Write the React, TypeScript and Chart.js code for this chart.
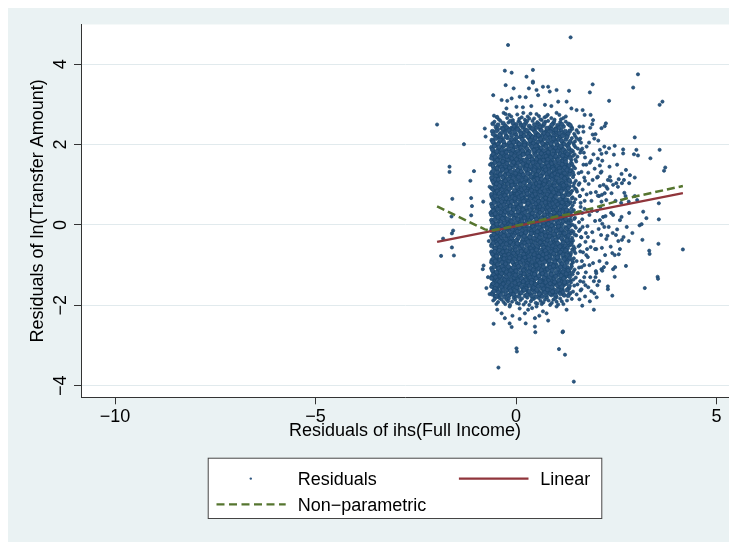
import React, { useEffect, useRef } from 'react';
import { Chart, registerables } from 'chart.js';
Chart.register(...registerables);

// ---- axes ----
const X_TICKS = [-10, -5, 0, 5];
const Y_TICKS = [-4, -2, 0, 2, 4];
const X_MIN = -10.85;
const X_MAX = 5.31;
const Y_MIN = -4.29;
const Y_MAX = 4.99;

const X_TITLE = 'Residuals of ihs(Full Income)';
const Y_TITLE = 'Residuals of ln(Transfer Amount)';
const LEGEND_LABELS = ['Residuals', 'Linear', 'Non\u2212parametric'];

// ---- fitted lines ----
const LINEAR_X = [-1.97, 4.16];
const LINEAR_Y = [-0.42, 0.79];
const LOWESS_X = [-1.97, -0.78, -0.61, 0.09, 0.92, 1.42, 1.92, 2.75, 4.16];
const LOWESS_Y = [0.46, -0.11, -0.14, 0.0, 0.19, 0.29, 0.42, 0.66, 0.97];

// ---- residual points, (x, y) pairs in hundredths ----
const RESID_CORE = [
  -55,272, -43,263, -31,279, -22,266, -8,261, 3,275, 14,268, 22,262, 36,277, 45,265, 57,271, 64,261, 79,274, 88,266, 101,279, 112,263, -17,274, 29,270, 71,268, 124,270,
  -58,252, -50,244, -39,259, -27,247, -19,255, -11,241, 0,250, 6,258, 17,243, 24,254, 33,246, 41,259, 50,242, 56,251, 67,247, 73,257, 85,243, 93,253, 99,240, 110,256, 118,245, 131,251, -35,241, 12,249, 46,250, 80,259, 104,248, 139,243,
  -59,233, -52,222, -46,238, -38,228, -30,235, -24,221, -15,231, -7,239, -1,226, 9,234, 15,222, 23,237, 31,229, 38,221, 44,236, 53,227, 60,239, 66,224, 74,232, 83,221, 89,238, 95,229, 104,223, 112,236, 119,228, 127,221, 134,234, 145,227, -20,239, 19,230, 49,222, 78,238, 100,233, 151,236,
  -60,211, -55,203, -47,218, -42,206, -34,213, -29,201, -21,217, -13,208, -9,200, -2,214, 5,205, 11,219, 19,209, 26,202, 32,216, 37,206, 45,212, 51,201, 58,219, 63,208, 70,214, 77,203, 84,217, 90,207, 97,212, 103,200, 110,218, 116,205, 124,213, 131,202, 139,216, 147,208, -38,219, 1,207, 41,219, 68,201, 94,219, 157,212,
  -61,193, -57,184, -51,198, -44,189, -40,181, -33,195, -25,186, -22,199, -14,183, -6,192, -3,181, 6,197, 10,188, 18,181, 23,194, 30,185, 36,199, 42,190, 47,182, 55,195, 59,187, 66,181, 72,198, 79,189, 82,183, 91,194, 96,186, 102,199, 109,181, 115,191, 121,185, 128,197, 133,188, 142,183, 148,194, -30,182, 14,200, 51,190, 87,199, 106,189, 137,181, 162,186,
  -60,172, -54,163, -49,178, -43,167, -37,174, -34,160, -26,176, -18,165, -15,171, -7,161, -1,179, 4,168, 12,174, 16,162, 25,177, 28,166, 35,172, 43,160, 46,178, 53,169, 61,175, 65,163, 73,179, 76,167, 84,173, 89,161, 97,177, 101,166, 108,171, 114,160, 121,178, 125,168, 132,174, 138,162, 146,176, -29,168, 8,160, 39,168, 57,163, 81,178, 94,169, 118,166, 153,170, -46,163, 69,170,
  -61,152, -56,143, -50,158, -45,146, -39,154, -31,141, -28,157, -20,148, -12,159, -8,144, -1,151, 7,140, 13,156, 20,147, 24,153, 33,142, 38,158, 44,149, 52,141, 56,155, 63,146, 70,159, 75,150, 83,142, 86,156, 94,147, 99,140, 106,153, 113,145, 117,159, 126,149, 130,141, 137,155, 143,146, -24,141, -4,158, 29,150, 48,157, 66,141, 79,156, 90,150, 110,142, 122,152, 150,158, -35,149,
  -60,131, -53,124, -48,138, -41,127, -36,135, -30,120, -22,132, -17,139, -10,125, -3,134, 2,121, 10,137, 15,128, 21,120, 27,133, 34,126, 40,139, 47,122, 54,131, 58,137, 64,124, 71,133, 78,121, 81,138, 88,127, 95,134, 100,122, 107,139, 111,128, 119,135, 124,121, 131,130, 139,137, 144,125, -44,121, -26,128, 6,129, 31,138, 50,126, 68,139, 85,120, 102,131, 115,123, 135,134, 156,129,
  -59,112, -55,103, -47,117, -42,108, -35,101, -28,115, -23,106, -16,119, -9,109, -5,102, 3,114, 9,105, 17,118, 22,107, 29,113, 36,101, 42,116, 48,106, 55,119, 61,110, 67,103, 74,115, 80,107, 87,118, 92,101, 98,112, 105,105, 112,117, 118,109, 123,102, 129,114, 136,106, 142,119, 149,110, -51,109, -31,108, -12,101, 13,110, 39,119, 60,100, 77,111, 95,119, 109,101, 126,118, 158,104,
  -61,92, -54,85, -50,98, -43,88, -38,94, -33,81, -25,97, -20,86, -13,93, -6,80, -2,99, 5,89, 12,95, 18,82, 23,97, 31,87, 37,93, 41,80, 49,98, 54,88, 62,94, 68,83, 73,99, 79,90, 86,84, 91,96, 98,88, 103,81, 110,97, 116,89, 121,93, 127,80, 133,96, 140,85, 147,91, -46,80, -29,90, 0,84, 27,90, 45,84, 65,96, 83,95, 107,86, 124,99, 152,83,
  -60,71, -56,63, -49,77, -44,66, -37,74, -31,60, -26,78, -19,69, -11,75, -7,61, 0,73, 6,64, 11,79, 19,68, 25,74, 30,62, 38,77, 43,67, 50,72, 57,61, 63,79, 69,66, 72,74, 80,63, 85,78, 93,68, 97,73, 104,60, 111,77, 115,67, 122,74, 128,62, 135,79, 141,69, 148,64, -52,79, -22,62, 15,60, 34,70, 53,80, 76,70, 89,61, 100,79, 119,62, 159,72,
  -61,52, -57,43, -51,58, -45,47, -40,55, -34,41, -27,57, -21,46, -16,53, -8,40, -3,59, 4,49, 10,55, 16,42, 22,58, 28,48, 35,53, 40,41, 47,57, 51,46, 58,52, 66,40, 70,59, 77,48, 82,55, 89,43, 94,57, 101,47, 108,53, 112,40, 120,58, 125,49, 132,54, 138,42, 145,56, -47,40, -13,48, 1,42, 31,59, 55,44, 74,51, 97,41, 117,51, 141,49, 161,45,
  -60,33, -54,24, -48,38, -42,27, -36,35, -32,21, -24,37, -18,28, -10,34, -4,20, 2,39, 8,29, 14,35, 20,22, 27,38, 33,27, 39,33, 44,20, 52,37, 57,28, 64,34, 68,21, 75,39, 81,30, 88,23, 92,36, 99,28, 106,33, 113,21, 118,38, 124,29, 131,35, 137,22, 144,37, -51,30, -29,30, -7,27, 17,29, 36,21, 61,39, 78,27, 96,21, 110,35, 128,24, 155,31,
  -61,12, -56,4, -50,17, -43,8, -39,15, -31,1, -27,18, -20,7, -15,13, -7,0, -1,19, 7,9, 12,16, 18,3, 24,18, 31,8, 36,14, 42,1, 49,19, 55,10, 60,15, 67,2, 73,18, 78,7, 84,14, 90,0, 97,19, 103,9, 109,15, 115,3, 121,17, 126,8, 134,13, 140,1, 147,18, -47,1, -24,10, 3,4, 28,12, 46,6, 70,11, 87,19, 100,2, 119,11, 157,7,
  -60,-8, -55,-16, -49,-3, -44,-12, -38,-5, -33,-19, -25,-2, -19,-13, -12,-6, -6,-20, 1,-1, 5,-11, 13,-4, 17,-18, 26,-3, 30,-14, 37,-7, 44,-19, 48,-2, 56,-12, 62,-5, 66,-17, 74,-1, 79,-10, 87,-15, 91,-4, 98,-19, 104,-8, 111,-3, 117,-16, 123,-6, 129,-12, 136,-1, 143,-17, 149,-7, -52,-19, -28,-10, -2,-14, 21,-9, 40,-1, 59,-20, 83,-6, 108,-13, 132,-19, 160,-11,
  -61,-28, -57,-37, -51,-23, -45,-33, -41,-26, -34,-39, -28,-22, -22,-31, -14,-24, -9,-38, -2,-21, 4,-35, 10,-27, 16,-40, 23,-22, 29,-32, 36,-25, 41,-37, 49,-21, 53,-30, 61,-23, 67,-38, 72,-27, 80,-34, 85,-21, 93,-39, 97,-25, 104,-31, 110,-22, 116,-37, 124,-28, 129,-34, 137,-21, 142,-39, 150,-26, -48,-39, -17,-34, 7,-23, 33,-39, 57,-36, 76,-21, 89,-30, 119,-24, 134,-38, 163,-31,
  -60,-48, -54,-57, -49,-43, -43,-53, -37,-46, -31,-59, -26,-42, -18,-51, -12,-45, -5,-58, 0,-41, 8,-52, 12,-47, 20,-60, 25,-44, 32,-55, 39,-48, 45,-57, 50,-41, 58,-50, 64,-46, 70,-58, 77,-42, 83,-53, 90,-47, 94,-59, 101,-43, 107,-52, 114,-49, 120,-56, 126,-41, 133,-50, 139,-45, 146,-58, -46,-59, -21,-41, -3,-50, 17,-43, 36,-41, 55,-59, 73,-51, 97,-50, 111,-59, 130,-44, 156,-53,
  -61,-67, -56,-76, -50,-62, -46,-73, -39,-66, -35,-79, -27,-63, -21,-71, -15,-61, -8,-77, -3,-65, 3,-74, 11,-62, 15,-78, 22,-68, 28,-72, 35,-61, 42,-79, 47,-64, 54,-70, 60,-75, 65,-62, 71,-78, 78,-67, 86,-73, 89,-61, 96,-76, 103,-66, 108,-71, 115,-63, 121,-79, 127,-68, 135,-74, 140,-61, 148,-70, -52,-70, -31,-74, -11,-69, 7,-80, 31,-67, 50,-77, 68,-68, 92,-65, 118,-72, 160,-66,
  -60,-88, -55,-97, -48,-83, -44,-92, -37,-85, -32,-99, -24,-82, -20,-94, -13,-87, -6,-96, 1,-81, 6,-90, 14,-84, 19,-98, 24,-89, 31,-93, 38,-81, 43,-97, 51,-86, 56,-91, 63,-83, 67,-99, 74,-87, 81,-94, 85,-82, 92,-97, 99,-88, 105,-84, 112,-95, 118,-81, 125,-92, 131,-86, 138,-98, 144,-83, 151,-90, -51,-81, -28,-91, -1,-99, 26,-80, 47,-95, 61,-88, 78,-85, 100,-99, 122,-87, 142,-93,
  -61,-108, -57,-117, -51,-103, -45,-112, -40,-105, -33,-119, -29,-102, -22,-114, -16,-107, -9,-118, -4,-101, 4,-110, 9,-104, 17,-116, 21,-109, 29,-113, 34,-101, 41,-119, 46,-106, 53,-111, 59,-103, 66,-117, 70,-108, 77,-113, 83,-101, 88,-119, 95,-107, 102,-104, 109,-115, 114,-102, 120,-110, 128,-106, 133,-118, 139,-103, 146,-111, -47,-120, -25,-110, -2,-113, 13,-120, 38,-110, 62,-120, 80,-106, 106,-120, 124,-117, 157,-106,
  -60,-128, -54,-137, -49,-123, -42,-132, -38,-125, -31,-139, -26,-122, -19,-134, -11,-127, -7,-138, 0,-121, 7,-130, 12,-124, 18,-136, 26,-129, 30,-133, 37,-121, 44,-139, 48,-126, 55,-131, 62,-123, 68,-137, 73,-128, 79,-134, 86,-121, 90,-139, 97,-127, 104,-124, 110,-135, 117,-122, 122,-130, 127,-126, 136,-138, 141,-123, 149,-131, -52,-140, -35,-131, -15,-121, 3,-135, 22,-122, 41,-130, 64,-140, 93,-131, 113,-140, 132,-121,
  -59,-148, -55,-157, -50,-143, -44,-152, -38,-145, -34,-159, -27,-142, -21,-154, -14,-147, -8,-158, -1,-141, 5,-150, 11,-144, 16,-156, 23,-149, 27,-153, 35,-141, 40,-159, 46,-146, 52,-151, 58,-143, 63,-157, 71,-148, 76,-154, 82,-141, 87,-159, 94,-147, 100,-144, 107,-155, 112,-142, 118,-150, 124,-146, 131,-158, 137,-143, 145,-151, -47,-160, -30,-150, -4,-153, 20,-142, 43,-152, 67,-145, 91,-150, 115,-160, 128,-141, 153,-148,
  -58,-168, -53,-177, -47,-163, -41,-172, -35,-165, -29,-179, -22,-162, -16,-174, -9,-167, -3,-178, 4,-161, 10,-170, 17,-164, 23,-176, 30,-169, 36,-173, 43,-161, 49,-179, 56,-166, 62,-171, 69,-163, 75,-177, 81,-168, 88,-174, 94,-161, 100,-179, 107,-167, 113,-164, 120,-175, 127,-162, 134,-170, 142,-166, -44,-180, -12,-171, 26,-161, 59,-175, 97,-170, 151,-173,
  -57,-188, -49,-197, -40,-183, -31,-192, -24,-185, -15,-199, -6,-182, 2,-194, 11,-187, 19,-198, 28,-181, 37,-190, 44,-184, 53,-196, 61,-189, 68,-193, 77,-181, 85,-199, 93,-186, 101,-191, 110,-183, 118,-197, 127,-188, 139,-184, -20,-190, 33,-199, 72,-186, 105,-198,
];

const RESID_CORE_B = [
  -48,268, -26,276, -12,270, 8,264, 18,279, 33,265, 51,276, 61,263, 75,270, 96,262, 108,274, 118,266,
  -54,257, -45,249, -32,253, -23,242, -15,259, -5,246, 3,241, 10,255, 20,248, 28,259, 37,241, 53,256, 60,244, 70,252, 77,241, 89,249, 95,258, 107,242, 114,251, 124,257, 135,248, -8,254,
  -57,226, -49,234, -41,224, -33,239, -27,229, -18,236, -11,223, -4,232, 4,238, 12,227, 20,222, 27,235, 34,225, 41,240, 48,231, 56,223, 63,235, 70,228, 79,226, 86,232, 93,222, 99,237, 108,228, 116,222, 123,233, 130,227, 140,239, 147,222,
  -58,207, -51,215, -45,201, -39,211, -31,207, -25,219, -17,204, -11,213, -6,206, 2,218, 8,202, 15,213, 22,205, 29,220, 35,210, 43,203, 48,216, 55,207, 61,214, 66,203, 73,219, 80,210, 87,202, 93,215, 100,206, 106,213, 113,210, 120,201, 127,219, 135,208, 143,203, 151,216,
  -59,188, -54,196, -48,183, -42,194, -36,186, -30,198, -24,181, -18,190, -12,197, -8,186, 0,194, 4,183, 12,192, 16,185, 21,199, 27,190, 33,182, 39,195, 45,186, 50,197, 57,183, 63,192, 69,185, 75,195, 80,181, 85,190, 93,183, 99,192, 104,184, 112,196, 118,187, 124,181, 131,192, 139,186, 145,198, 154,190,
  -61,166, -57,176, -52,169, -47,161, -40,170, -35,179, -31,164, -23,171, -20,161, -12,177, -10,166, -4,172, 1,163, 7,177, 10,170, 18,175, 21,161, 29,178, 32,170, 40,163, 49,174, 51,164, 58,170, 63,178, 68,161, 75,171, 79,163, 87,169, 92,176, 99,171, 104,162, 111,177, 116,173, 123,163, 128,177, 135,167, 142,172, 148,163,
  -58,148, -53,155, -47,141, -42,152, -37,144, -33,158, -26,146, -23,153, -16,142, -10,150, -6,156, 2,146, 5,154, 10,143, 17,152, 22,141, 27,147, 31,157, 36,146, 42,155, 47,143, 54,149, 60,157, 65,148, 72,143, 77,154, 81,147, 89,153, 91,143, 97,156, 103,146, 108,141, 115,151, 121,143, 124,157, 133,148, 140,152, 147,141,
  -61,128, -57,134, -50,121, -46,131, -39,126, -34,138, -28,123, -24,135, -19,127, -13,133, -7,121, -1,129, 4,136, 8,124, 13,133, 18,125, 24,139, 29,128, 37,121, 42,132, 45,137, 52,125, 56,134, 61,121, 67,130, 74,137, 76,126, 83,132, 90,124, 93,139, 97,128, 104,124, 109,134, 113,121, 121,129, 127,137, 134,126, 142,131,
  -61,117, -57,108, -52,114, -49,102, -44,113, -38,106, -33,118, -26,110, -21,102, -18,114, -12,108, -7,117, 0,107, 6,119, 11,101, 15,112, 20,105, 25,117, 33,108, 38,102, 45,111, 51,103, 53,115, 58,106, 64,114, 70,101, 72,110, 78,119, 83,105, 90,113, 96,104, 101,117, 107,109, 115,103, 121,116, 126,105, 133,111, 145,104,
  -58,89, -52,93, -47,84, -41,97, -35,88, -30,95, -23,82, -17,90, -10,99, -4,86, 2,94, 8,81, 14,88, 21,92, 26,84, 33,98, 39,86, 43,95, 47,82, 52,91, 57,97, 60,83, 66,90, 71,85, 76,95, 81,82, 88,91, 94,81, 96,97, 101,89, 106,93, 113,84, 118,99, 125,87, 130,91, 137,83, 143,97, 150,88,
  -61,76, -58,68, -53,72, -47,63, -42,78, -39,70, -33,65, -28,73, -24,66, -16,62, -13,78, -9,70, -3,66, 3,77, 8,70, 14,73, 17,65, 22,62, 28,78, 36,66, 41,73, 46,62, 48,77, 55,68, 61,73, 66,62, 74,67, 78,76, 83,64, 87,73, 95,64, 99,70, 106,77, 109,64, 117,71, 124,63, 131,75, 139,66,
  -59,46, -55,55, -49,43, -43,52, -38,47, -36,58, -30,50, -24,43, -19,56, -14,47, -11,58, -6,45, 0,53, 7,44, 12,50, 19,59, 25,43, 30,54, 37,47, 42,57, 45,45, 49,53, 56,59, 60,46, 64,54, 68,44, 73,56, 79,44, 85,50, 92,53, 96,45, 99,58, 104,51, 111,46, 115,56, 123,44, 129,51, 136,57,
  -61,25, -57,34, -52,28, -46,39, -40,22, -38,31, -30,26, -27,33, -21,38, -15,24, -12,31, -6,38, 0,25, 5,33, 11,22, 17,38, 22,31, 30,24, 35,37, 41,29, 47,22, 50,34, 55,25, 60,31, 66,38, 71,26, 77,33, 84,37, 86,24, 95,31, 101,38, 103,23, 109,29, 116,33, 121,22, 126,37, 134,27, 140,33,
  -59,6, -53,13, -48,2, -45,19, -37,9, -34,16, -29,5, -22,15, -18,2, -11,9, -5,16, 0,6, 4,14, 10,1, 15,10, 21,17, 26,5, 34,11, 39,18, 44,4, 51,14, 53,2, 58,8, 63,17, 69,6, 75,12, 81,3, 82,16, 89,9, 94,16, 100,12, 106,5, 112,18, 117,9, 124,14, 131,4, 137,10, 145,15,
  -61,-14, -57,-4, -51,-10, -46,-18, -40,-9, -35,-2, -30,-16, -23,-7, -16,-17, -14,-1, -9,-11, -3,-4, 3,-16, 9,-8, 15,-14, 20,-2, 24,-19, 33,-10, 39,-15, 42,-4, 46,-11, 53,-17, 58,-7, 64,-13, 69,-3, 72,-18, 77,-8, 85,-12, 89,-2, 94,-9, 100,-15, 106,-3, 113,-11, 119,-20, 126,-9, 132,-4, 139,-14, 146,-2,
  -59,-33, -55,-24, -49,-30, -43,-37, -38,-22, -36,-31, -31,-27, -25,-36, -19,-25, -11,-32, -6,-27, 0,-39, 6,-31, 13,-22, 18,-35, 20,-28, 27,-37, 34,-30, 38,-21, 44,-33, 51,-26, 55,-38, 59,-31, 64,-24, 70,-34, 74,-27, 78,-39, 83,-28, 91,-34, 95,-23, 100,-37, 107,-28, 113,-33, 121,-21, 127,-38, 131,-26, 140,-32, 146,-24,
  -61,-52, -57,-45, -52,-59, -47,-48, -41,-57, -39,-42, -33,-50, -28,-56, -24,-47, -16,-58, -14,-43, -8,-49, -1,-55, 3,-46, 10,-57, 15,-52, 22,-45, 27,-51, 30,-42, 37,-58, 42,-51, 48,-46, 53,-55, 60,-43, 67,-51, 69,-56, 75,-47, 80,-59, 86,-44, 92,-52, 99,-57, 104,-46, 109,-54, 117,-44, 123,-52, 128,-58, 136,-48, 143,-53,
  -59,-72, -53,-66, -49,-78, -42,-63, -37,-71, -33,-67, -29,-76, -23,-65, -18,-73, -12,-79, -6,-70, -1,-62, 5,-69, 9,-77, 13,-66, 19,-73, 25,-63, 31,-79, 38,-70, 40,-65, 45,-74, 51,-62, 57,-78, 62,-69, 67,-74, 73,-64, 76,-72, 82,-78, 88,-67, 94,-71, 99,-63, 105,-78, 111,-68, 117,-74, 124,-63, 130,-77, 137,-69, 145,-65,
  -61,-93, -57,-85, -52,-90, -46,-99, -40,-87, -35,-93, -30,-84, -26,-97, -18,-89, -16,-82, -9,-92, -3,-86, 3,-97, 8,-84, 11,-93, 17,-88, 22,-81, 28,-96, 33,-87, 40,-92, 45,-83, 49,-99, 54,-88, 59,-94, 65,-85, 71,-92, 76,-81, 83,-89, 87,-98, 94,-86, 97,-92, 103,-81, 109,-89, 115,-97, 120,-85, 127,-94, 134,-82, 140,-89,
  -59,-113, -55,-104, -49,-118, -43,-108, -38,-114, -35,-103, -31,-111, -24,-117, -19,-104, -12,-112, -7,-106, 0,-115, 6,-103, 11,-119, 15,-108, 19,-113, 26,-102, 32,-117, 36,-107, 43,-112, 48,-119, 51,-101, 57,-109, 63,-113, 68,-104, 72,-119, 79,-110, 85,-106, 90,-113, 93,-102, 100,-118, 105,-109, 111,-105, 117,-117, 122,-103, 130,-113, 136,-108, 143,-116,
  -61,-133, -56,-124, -51,-130, -46,-138, -40,-127, -36,-121, -28,-135, -24,-129, -17,-123, -13,-137, -5,-131, -2,-125, 5,-139, 10,-128, 14,-133, 20,-122, 24,-137, 32,-126, 35,-131, 39,-138, 46,-123, 50,-133, 57,-127, 60,-136, 66,-121, 70,-131, 75,-124, 81,-138, 84,-129, 88,-123, 95,-134, 99,-128, 106,-138, 112,-126, 119,-133, 125,-122, 134,-129, 143,-136,
  -61,-153, -57,-146, -52,-158, -48,-149, -41,-141, -36,-155, -32,-147, -25,-153, -19,-143, -16,-158, -10,-149, -3,-144, 2,-156, 8,-147, 13,-152, 18,-141, 25,-158, 29,-145, 33,-151, 38,-144, 44,-156, 49,-148, 55,-153, 60,-141, 65,-150, 69,-159, 74,-143, 79,-151, 85,-146, 89,-155, 96,-142, 103,-151, 109,-147, 114,-154, 121,-143, 133,-152,
  -60,-172, -55,-165, -50,-178, -44,-168, -38,-174, -32,-162, -26,-171, -19,-177, -14,-164, -6,-173, 0,-166, 7,-178, 13,-169, 20,-162, 27,-174, 33,-165, 39,-177, 46,-168, 52,-162, 58,-172, 65,-178, 72,-168, 78,-161, 85,-171, 91,-166, 98,-175, 104,-162, 111,-171, 117,-167, 130,-176,
  -53,-184, -45,-192, -36,-186, -27,-197, -18,-183, -10,-191, -2,-186, 7,-196, 15,-183, 24,-192, 40,-185, 49,-194, 57,-182, 64,-197, 81,-188, 89,-194, 97,-183, 114,-190,
];

const RESID_TAILS = [
  -47,-211, -36,-220, -28,-232, -16,-203, -16,-245, 9,-208, 9,-234, 22,-220, 24,-245, 30,-211, 47,-232, 51,-203, 67,-215, 76,-220, 80,-238, 101,-203, 126,-211, -9,-226, 40,-207, 58,-226,
  -36,311, -22,309, -11,315, 9,319, 24,318, 32,340, 51,336, 55,323, 67,344, 80,344, 84,332, 101,336, 132,334, 105,307, 126,307, 138,290, 151,286, 166,286, 171,274, 186,274, -24,290, 1,294, 17,293, 38,296, 72,299, 88,296, -26,348, -6,340, 42,357, -47,269, 192,261, 198,226, 195,215, 190,251,
  -65,150, -68,-40, -66,95, -70,-130, -64,30,
];

const RESID_FRINGE = [
  160,215, 165,190, 172,168, 158,245, 168,232, 182,205, 175,150, 163,132, 170,118, 181,102, 166,88, 176,76, 188,60, 161,55, 171,40, 183,25, 165,14, 178,-3, 190,-18, 162,-30, 173,-42, 186,-55, 167,-68, 179,-80, 192,-95, 163,-105, 174,-118, 185,-130, 168,-142, 180,-155, 161,-163, 172,-178, 184,-190, 195,-170, 198,-130, 200,-60, 197,10, 199,82, 196,140, 193,176, 205,210, 185,242, 210,45, 212,-25, 208,-90, 215,160, 218,100, 220,-5, 225,-35, 203,-150, 158,-185, 166,-5, 159,-50, 164,-90, 170,-130, 176,195, 191,225, 187,160, 202,118, 207,72, 213,-110, 154,-120, 156,100, 160,-140, 171,60, 177,-60, 183,-100, 189,35, 194,-140, 201,-180, 206,-10, 169,180, 174,-20,
  155,230, 162,205, 168,150, 172,110, 159,72, 165,30, 157,-15, 170,-100, 163,-160, 175,-75, 180,130, 186,80, 193,-40, 199,-115, 204,165, 211,130, 217,20, 222,-75, 228,90, 233,145, 237,30, 241,-20, 248,60, 252,150, 259,-60, 263,20, 270,80, 276,-5, 160,180, 167,245, 173,-150, 179,-30, 184,155, 188,-165, 191,112, 197,-60, 202,35, 207,-140, 214,75, 220,195, 226,-95, 231,-5, 236,110, 242,-110, 249,-25, 254,95, 262,55, 268,-30, 282,30, 290,-20,
];

const RESID_OUTLIERS = [
  136,467, -20,448, -28,384, -11,379, 42,386, 26,369, 42,354, 304,375, 292,342, 191,350, 184,330, 232,309, 358,299, 365,307, -57,323, -197,250, -78,240, -76,220, -130,201, -166,145, -166,132, -105,134, -114,110, -159,65, -112,67, -110,47, -82,58, -112,24, -161,21, -157,-14, -160,-21, -182,-34, -160,-56, -187,-77, -155,-76, -83,-110, -81,-101, -74,-157, -66,-172, -56,-246, -11,-254, 1,-307, 2,-315, -44,-355, 47,-253, 48,-267, 116,-267, 117,-265, 107,-309, 122,-323, 144,-390, 194,-211, 165,-201, 321,-157, 353,-129, 354,-134, 274,-102, 246,-129, 240,-176, 229,-153, 229,-160, 247,-105, 416,-61, 332,-64, 333,-72, 315,-37, 355,-47, 281,-40, 255,-40, 264,-37, 240,-70, 246,-75, 256,-73, 236,-54, 228,-27, 214,-57, 215,-114, 219,-105, 200,-120, 308,-1, 313,2, 325,17, 356,14, 317,33, 356,54, 302,62, 296,72, 259,12, 252,-11, 223,22, 242,25, 209,12, 215,3, 369,135, 372,143, 358,187, 335,166, 296,218, 300,187, 304,173, 294,176, 267,188, 267,178, 246,197, 244,175, 232,191, 225,180, 213,177, 209,187, 224,253, 221,246, 213,241, 284,124, 274,137, 263,127, 296,118, 282,104, 256,114, 250,104, 264,104, 269,112, 234,120, 229,112, 242,100, 238,79, 273,72, 281,58, 209,148, 213,133, 204,120, 221,79, 225,62, 213,58, 204,73, 225,95, 209,97,
];

// ---- styles ----
const BG = '#EAF2F3';
const NAVY = '#1A476F';
const NAVY_FILL = '#2D5680';
const MAROON = '#90353B';
const GREEN = '#55752F';
const GRID = '#E1EAED';
const AXIS = '#333333';
const FONT = "'Liberation Sans', Arial, Helvetica, sans-serif";

const fmt = (v: number) => (v < 0 ? '\u2212' + Math.abs(v) : String(v));

function pairsToPoints(arr: number[], dense = false) {
  const out: { x: number; y: number; dense: boolean }[] = [];
  for (let i = 0; i + 1 < arr.length; i += 2) out.push({ x: arr[i] / 100, y: arr[i + 1] / 100, dense });
  return out;
}

const decorPlugin = {
  id: 'decor',
  beforeDraw(chart: any) {
    const { ctx, chartArea: a, width, height } = chart;
    ctx.save();
    ctx.fillStyle = BG;
    ctx.fillRect(0, 0, width, height);
    ctx.fillStyle = '#ffffff';
    ctx.fillRect(a.left, a.top, a.right - a.left, a.bottom - a.top);
    ctx.restore();
  },
  afterDraw(chart: any) {
    const { ctx, chartArea: a, scales } = chart;
    ctx.save();
    ctx.fillStyle = '#000';
    ctx.font = `18px ${FONT}`;
    for (const v of Y_TICKS) {
      const y = scales.y.getPixelForValue(v);
      ctx.save();
      ctx.translate(53, y);
      ctx.rotate(-Math.PI / 2);
      ctx.textAlign = 'center';
      ctx.textBaseline = 'middle';
      ctx.fillText(fmt(v), 0, 0);
      ctx.restore();
    }
    ctx.save();
    ctx.translate(30.5, (a.top + a.bottom) / 2);
    ctx.rotate(-Math.PI / 2);
    ctx.textAlign = 'center';
    ctx.textBaseline = 'middle';
    ctx.fillText(Y_TITLE, 0, 0);
    ctx.restore();
    ctx.textAlign = 'center';
    ctx.textBaseline = 'alphabetic';
    ctx.fillText(X_TITLE, (a.left + a.right) / 2, 429.5);

    // legend
    const bx = 199.7, by = 451.7, bw = 394.6, bh = 61.3;
    ctx.fillStyle = '#ffffff';
    ctx.fillRect(bx, by, bw, bh);
    ctx.strokeStyle = '#444';
    ctx.lineWidth = 1;
    ctx.strokeRect(bx + 0.5, by + 0.5, bw - 1, bh - 1);

    const r1 = 472.6, r2 = 498.4;
    ctx.beginPath();
    ctx.arc(242.8, r1, 1.2, 0, Math.PI * 2);
    ctx.fillStyle = NAVY_FILL;
    ctx.fill();
    ctx.beginPath();
    ctx.moveTo(450.9, r1);
    ctx.lineTo(520.5, r1);
    ctx.strokeStyle = MAROON;
    ctx.lineWidth = 2.2;
    ctx.stroke();
    ctx.beginPath();
    ctx.setLineDash([8, 4.5]);
    ctx.moveTo(208.5, r2);
    ctx.lineTo(277.7, r2);
    ctx.strokeStyle = GREEN;
    ctx.lineWidth = 2.4;
    ctx.stroke();
    ctx.setLineDash([]);

    ctx.fillStyle = '#000';
    ctx.textAlign = 'left';
    ctx.textBaseline = 'alphabetic';
    ctx.fillText(LEGEND_LABELS[0], 289.7, 479.2);
    ctx.fillText(LEGEND_LABELS[1], 532.2, 479.2);
    ctx.fillText(LEGEND_LABELS[2], 289.7, 504.8);
    ctx.restore();
  },
};

export default function App() {
  const ref = useRef<HTMLCanvasElement | null>(null);
  useEffect(() => {
    if (!ref.current) return;
    const resid = [
      ...pairsToPoints(RESID_CORE, true),
      ...pairsToPoints(RESID_CORE_B, true),
      ...pairsToPoints(RESID_FRINGE),
      ...pairsToPoints(RESID_TAILS),
      ...pairsToPoints(RESID_OUTLIERS),
    ];
    const linear = LINEAR_X.map((x, i) => ({ x, y: LINEAR_Y[i] }));
    const lowess = LOWESS_X.map((x, i) => ({ x, y: LOWESS_Y[i] }));
    const chart = new Chart(ref.current, {
      type: 'scatter',
      data: {
        datasets: [
          {
            label: LEGEND_LABELS[0],
            data: resid,
            backgroundColor: NAVY_FILL,
            borderColor: NAVY,
            // interior of the dense cloud stands for many overlapping markers: drawn a bit larger
            pointRadius: (c: any) => {
              const p = c.raw;
              return p && p.dense && p.y > -1.8 && p.y < 2.55 && p.x < 1.36 ? 2.1 : 1.6;
            },
            borderWidth: 0.7,
            order: 3,
          },
          {
            label: LEGEND_LABELS[1],
            data: linear,
            showLine: true,
            borderColor: MAROON,
            borderWidth: 2.3,
            pointRadius: 0,
            fill: false,
            order: 2,
          },
          {
            label: LEGEND_LABELS[2],
            data: lowess,
            showLine: true,
            borderColor: GREEN,
            borderWidth: 2.5,
            borderDash: [8, 4],
            pointRadius: 0,
            fill: false,
            order: 1,
          } as any,
        ],
      },
      options: {
        responsive: false,
        animation: false,
        devicePixelRatio: 1,
        events: [],
        layout: { padding: { top: 18.5, right: 8, bottom: 0, left: 0 } },
        plugins: { legend: { display: false }, tooltip: { enabled: false } },
        scales: {
          x: {
            type: 'linear',
            min: X_MIN,
            max: X_MAX,
            afterBuildTicks: (s: any) => {
              s.ticks = X_TICKS.map((value) => ({ value }));
            },
            afterFit: (s: any) => {
              s.height = 144.7;
            },
            ticks: {
              callback: (v: any) => fmt(Number(v)),
              font: { size: 18, family: FONT },
              color: '#000',
              padding: 2,
              maxRotation: 0,
              minRotation: 0,
              autoSkip: false,
            },
            grid: {
              drawOnChartArea: false,
              drawTicks: true,
              tickLength: 7,
              tickColor: AXIS,
              tickWidth: 1,
            },
            border: { display: true, color: AXIS, width: 1 },
          },
          y: {
            type: 'linear',
            min: Y_MIN,
            max: Y_MAX,
            afterBuildTicks: (s: any) => {
              s.ticks = Y_TICKS.map((value) => ({ value }));
            },
            afterFit: (s: any) => {
              s.width = 73;
            },
            ticks: { display: false },
            grid: {
              drawOnChartArea: true,
              color: GRID,
              lineWidth: 1,
              drawTicks: true,
              tickLength: 7,
              tickColor: AXIS,
              tickWidth: 1,
            },
            border: { display: true, color: AXIS, width: 1 },
          },
        },
      },
      plugins: [decorPlugin],
    } as any);
    return () => chart.destroy();
  }, []);

  return (
    <div style={{ width: 729, height: 536, marginTop: -2, background: BG }}>
      <canvas ref={ref} width={729} height={536} style={{ display: 'block', width: 729, height: 536 }} />
    </div>
  );
}
